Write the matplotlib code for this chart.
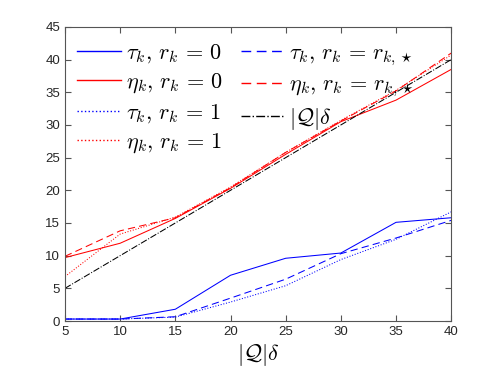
import matplotlib.pyplot as plt

plt.rcParams['mathtext.fontset'] = 'cm'
plt.rcParams['font.family'] = ['Liberation Sans', 'DejaVu Sans']

# |Q| delta
x = [5, 10, 15, 20, 25, 30, 35, 40]

tau_r0 = [0.3, 0.3, 1.8, 7.0, 9.6, 10.4, 15.1, 15.8]
eta_r0 = [9.7, 11.9, 15.7, 20.3, 25.5, 30.5, 33.8, 38.5]
tau_r1 = [0.3, 0.3, 0.6, 2.9, 5.4, 9.4, 12.5, 16.7]
eta_r1 = [6.8, 13.3, 15.9, 20.5, 25.8, 30.7, 35.3, 40.7]
tau_rs = [0.3, 0.3, 0.65, 3.5, 6.4, 10.3, 12.7, 15.4]
eta_rs = [9.9, 13.8, 15.8, 20.4, 25.8, 30.6, 35.2, 41.0]
ref = [5, 10, 15, 20, 25, 30, 35, 40]

fig = plt.figure(figsize=(4.98, 3.74), dpi=100)
ax = fig.add_axes([0.1305, 0.1417, 0.7755, 0.7863])

lw = 0.75
ax.plot(x, tau_r0, color='#0000ff', ls='-', lw=lw, label=r'$\tau_k,\, r_k\, =\, 0$')
ax.plot(x, eta_r0, color='#ff0000', ls='-', lw=lw, label=r'$\eta_k,\, r_k\, =\, 0$')
ax.plot(x, tau_r1, color='#0000ff', ls=':', lw=lw, label=r'$\tau_k,\, r_k\, =\, 1$')
ax.plot(x, eta_r1, color='#ff0000', ls=':', lw=lw, label=r'$\eta_k,\, r_k\, =\, 1$')
ax.plot(x, tau_rs, color='#0000ff', ls=(0, (7, 4)), lw=lw,
        label=r'$\tau_k,\, r_k\, =\, r_{k,\star}$')
ax.plot(x, eta_rs, color='#ff0000', ls=(0, (7, 4)), lw=lw,
        label=r'$\eta_k,\, r_k\, =\, r_{k,\star}$')
ax.plot(x, ref, color='k', ls='-.', lw=lw, label=r'$|\mathcal{Q}|\delta$')

ax.set_xlim(5, 40)
ax.set_ylim(0, 45)
ax.set_xticks(range(5, 41, 5))
ax.set_yticks(range(0, 46, 5))
ax.tick_params(direction='in', top=True, right=True, labelsize=9.5, length=4,
               color='#555555', labelcolor='#262626')
for s in ax.spines.values():
    s.set_color('#555555')
    s.set_linewidth(0.8)

ax.set_xlabel(r'$|\mathcal{Q}|\delta$', fontsize=16, labelpad=3)

leg = ax.legend(ncol=2, frameon=False, fontsize=16, loc='upper left',
                bbox_to_anchor=(-0.01, 1.0), handlelength=2.0, handletextpad=0.2,
                columnspacing=0.8, labelspacing=0.3, borderaxespad=0.3)
for h in leg.get_lines():
    h.set_linewidth(1.0)

plt.savefig('out.png', dpi=100)
